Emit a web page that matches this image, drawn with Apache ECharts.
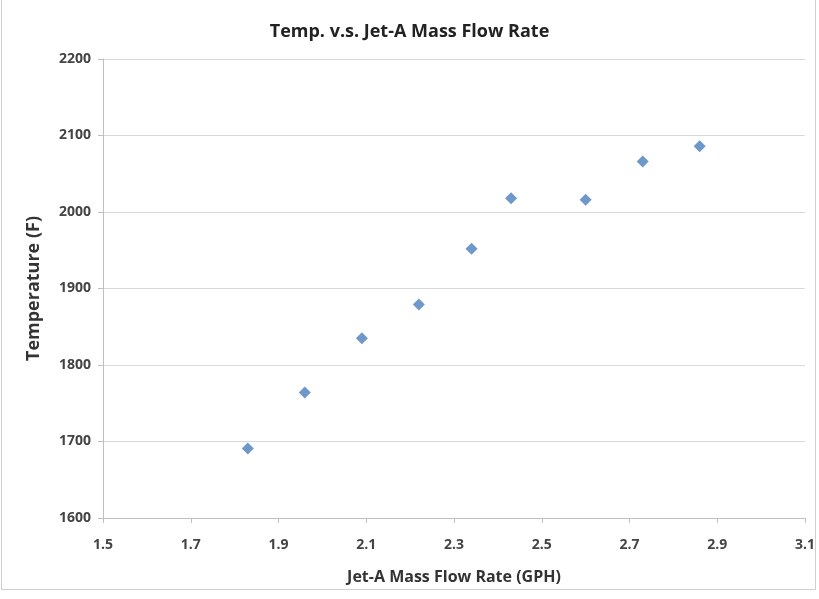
<!DOCTYPE html>
<html><head><meta charset="utf-8">
<script src="https://cdn.jsdelivr.net/npm/echarts@6/dist/echarts.min.js"></script>
<style>html,body{margin:0;padding:0;background:#fff}
#c{position:absolute;left:0;top:0;width:819px;height:599px}
#f{position:absolute;left:1px;top:-2px;width:815px;height:592px;border:1px solid #d0d0d0;box-sizing:border-box;pointer-events:none}</style>
</head><body><div id="c"></div><div id="f"></div>
<script>
const flowRate = [1.83, 1.96, 2.09, 2.22, 2.34, 2.43, 2.60, 2.73, 2.86];
const temperature = [1691, 1764, 1835, 1879, 1952, 2018, 2016, 2066, 2086];
const xTicks = [1.5, 1.7, 1.9, 2.1, 2.3, 2.5, 2.7, 2.9, 3.1];
const yTicks = [1600, 1700, 1800, 1900, 2000, 2100, 2200];

const font = 'Open Sans, Lato, sans-serif';
const chart = echarts.init(document.getElementById('c'));
chart.setOption({
  animation: false,
  title: {
    text: 'Temp. v.s. Jet-A Mass Flow Rate', left: 'center', top: 18,
    textStyle: {fontFamily: font, fontSize: 18, fontWeight: 'bold', color: '#222'}
  },
  grid: {left: 103, right: 14, top: 59, bottom: 81},
  xAxis: {
    type: 'value', min: xTicks[0], max: xTicks[xTicks.length - 1], interval: 0.2,
    name: 'Jet-A Mass Flow Rate (GPH)', nameLocation: 'middle', nameGap: 51,
    nameTextStyle: {fontFamily: font, fontSize: 16, fontWeight: 'bold', color: '#333'},
    axisLine: {show: true, lineStyle: {color: '#bfbfbf'}},
    axisTick: {show: true, length: 5, lineStyle: {color: '#bfbfbf'}},
    splitLine: {show: false},
    axisLabel: {fontFamily: font, fontSize: 14, fontWeight: 'bold', color: '#444', margin: 20,
      formatter: v => v.toFixed(1)}
  },
  yAxis: {
    type: 'value', min: yTicks[0], max: yTicks[yTicks.length - 1], interval: 100,
    name: 'Temperature (F)', nameLocation: 'middle', nameGap: 60,
    nameTextStyle: {fontFamily: font, fontSize: 18, fontWeight: 'bold', color: '#333'},
    axisLine: {show: true, lineStyle: {color: '#bfbfbf'}},
    axisTick: {show: true, length: 5, lineStyle: {color: '#bfbfbf'}},
    splitLine: {show: true, lineStyle: {color: '#d9d9d9', width: 1}},
    axisLabel: {fontFamily: font, fontSize: 14, fontWeight: 'bold', color: '#444', margin: 12,
      formatter: v => String(v)}
  },
  series: [{
    type: 'scatter', symbol: 'diamond', symbolSize: [12, 12],
    itemStyle: {color: '#4A7EBB'},
    data: flowRate.map((x, i) => [x, temperature[i]])
  }]
});
</script></body></html>
